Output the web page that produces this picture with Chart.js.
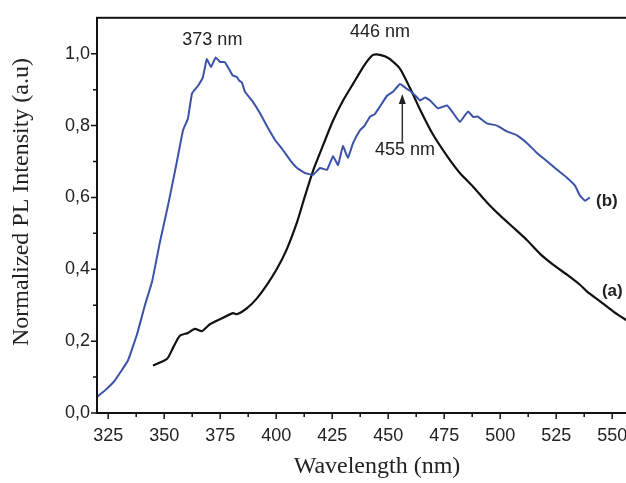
<!DOCTYPE html>
<html>
<head>
<meta charset="utf-8">
<script src="https://cdn.jsdelivr.net/npm/chart.js@4"></script>
<style>
  html, body { margin: 0; padding: 0; background: #fff; overflow: hidden; }
  #wrap { width: 662px; height: 483px; }
</style>
</head>
<body>
<div id="wrap"><canvas id="plChart" width="662" height="483"></canvas></div>
<script>
// PL spectra, normalised
const wavelengthA = [345, 351.3, 354, 357, 360.6, 363.7, 366.9, 370.4, 374.9, 380.7, 382.5, 387, 391.4, 395.9,
    400.4, 404.8, 409.3, 412.9, 416.6, 420.9, 425.4, 429.8, 434.3, 438.8, 442.8, 444.5, 446.3, 448.5, 450.8,
    455.3, 459.7, 464.2, 470, 476.3, 482, 487.9, 494.1, 499.9, 505.7, 512, 517.8, 523.6, 529.8, 535.6, 538.8,
    544.6, 550.4, 555.7, 560, 565];
const intensityA = [0.132, 0.151, 0.182, 0.215, 0.223, 0.234, 0.228, 0.247, 0.261, 0.278, 0.275, 0.292, 0.319, 0.357,
    0.402, 0.457, 0.531, 0.605, 0.677, 0.745, 0.814, 0.869, 0.916, 0.963, 0.995, 0.998, 0.997, 0.993, 0.985,
    0.958, 0.905, 0.845, 0.775, 0.715, 0.668, 0.63, 0.586, 0.55, 0.517, 0.481, 0.443, 0.413, 0.385, 0.357, 0.338,
    0.311, 0.283, 0.261, 0.245, 0.23];

const wavelengthB = [320, 323.6, 328, 333.8, 337.9, 341.4, 344.6, 348.1, 351.7, 355.3, 358.4, 360.6, 362.4, 365,
    367.3, 369, 370.9, 373, 374.9, 377, 379.4, 380.5, 382.5, 383.5, 384.7, 386, 389.6, 392.8, 395.9, 399.5, 403,
    406.2, 409.3, 412.9, 416.4, 419.6, 422.7, 425.4, 427.6, 429.8, 432, 434.3, 437.4, 439.5, 441.9, 444, 446.3,
    449.5, 452.1, 455.3, 458.4, 459.7, 462, 464.2, 466.5, 468.7, 472.2, 476.3, 479, 482, 485.6, 488, 490, 494.1,
    498.6, 503, 507.5, 512, 516.4, 520.9, 525.4, 529.8, 533.4, 535.6, 537.9, 540];
const intensityB = [0.045, 0.063, 0.091, 0.146, 0.22, 0.30, 0.366, 0.476, 0.578, 0.688, 0.787, 0.82, 0.889, 0.91,
    0.935, 0.985, 0.963, 0.99, 0.977, 0.977, 0.952, 0.94, 0.935, 0.925, 0.92, 0.895, 0.866, 0.834, 0.798, 0.76, 0.732,
    0.704, 0.682, 0.668, 0.663, 0.682, 0.677, 0.715, 0.69, 0.743, 0.71, 0.751, 0.787, 0.80, 0.825, 0.832, 0.853,
    0.883, 0.894, 0.916, 0.902, 0.897, 0.884, 0.87, 0.878, 0.87, 0.848, 0.856, 0.835, 0.81, 0.839, 0.824, 0.825,
    0.806, 0.80, 0.784, 0.773, 0.751, 0.724, 0.701, 0.677, 0.655, 0.633, 0.605, 0.591, 0.60];

const xTicks = [325, 350, 375, 400, 425, 450, 475, 500, 525, 550];
const yTicks = [0, 0.2, 0.4, 0.6, 0.8, 1.0];

const peakLabels = [
    { text: '373 nm', x: 371.5, y: 1.037 },
    { text: '446 nm', x: 446.3, y: 1.06 },
    { text: '455 nm', x: 457.5, y: 0.732 }
];
const curveTags = [
    { text: '(b)', x: 542.8, y: 0.589 },
    { text: '(a)', x: 545.4, y: 0.338 }
];
const arrow455 = { x: 456.3, from: 0.755, to: 0.888 };

const zip = (xs, ys) => xs.map((x, i) => ({ x, y: ys[i] }));

// majors plus a minor tick half way between them
function withMinor(major, min, max) {
    const step = major[1] - major[0];
    const out = [];
    for (let i = -1; i <= major.length; i++) {
        const v = major[0] + step * i;
        const m = v + step / 2;
        if (i >= 0 && i < major.length) out.push(major[i]);
        if (m >= min && m <= max) out.push(m);
    }
    return out.sort((a, b) => a - b);
}

const tickFont = { family: '"Liberation Sans", Arial, sans-serif', size: 18 };

// frame, outward tick marks, rotated y title and text labels
const decorations = {
    id: 'decorations',
    afterDraw(chart) {
        const { ctx, chartArea: a, scales: { x, y } } = chart;
        ctx.save();
        ctx.strokeStyle = '#111';
        ctx.lineWidth = 2;
        ctx.strokeRect(a.left, a.top, a.right - a.left, a.bottom - a.top);

        ctx.lineWidth = 1.5;
        ctx.beginPath();
        x.ticks.forEach(t => {
            const px = x.getPixelForValue(t.value);
            const len = xTicks.includes(t.value) ? 6 : 4;
            ctx.moveTo(px, a.bottom);
            ctx.lineTo(px, a.bottom + len);
        });
        y.ticks.forEach(t => {
            const py = y.getPixelForValue(t.value);
            if (py < a.top + 1) return;
            const len = yTicks.includes(t.value) ? 6 : 4;
            ctx.moveTo(a.left, py);
            ctx.lineTo(a.left - len, py);
        });
        ctx.stroke();

        ctx.fillStyle = '#222';
        ctx.font = '24px "Liberation Serif", "Times New Roman", serif';
        ctx.textAlign = 'center';
        ctx.textBaseline = 'middle';
        ctx.translate(22, 202);
        ctx.rotate(-Math.PI / 2);
        ctx.fillText('Normalized PL Intensity (a.u)', 0, 0);
        ctx.restore();

        ctx.save();
        ctx.fillStyle = '#222';
        ctx.font = '18px "Liberation Sans", Arial, sans-serif';
        ctx.textAlign = 'center';
        ctx.textBaseline = 'middle';
        peakLabels.forEach(l => ctx.fillText(l.text, x.getPixelForValue(l.x), y.getPixelForValue(l.y)));

        ctx.font = 'bold 17px "Liberation Sans", Arial, sans-serif';
        ctx.textAlign = 'left';
        curveTags.forEach(l => ctx.fillText(l.text, x.getPixelForValue(l.x), y.getPixelForValue(l.y)));

        const ax = x.getPixelForValue(arrow455.x);
        const y0 = y.getPixelForValue(arrow455.from);
        const y1 = y.getPixelForValue(arrow455.to);
        ctx.strokeStyle = '#333';
        ctx.lineWidth = 1.5;
        ctx.beginPath();
        ctx.moveTo(ax, y0);
        ctx.lineTo(ax, y1 + 8);
        ctx.stroke();
        ctx.fillStyle = '#222';
        ctx.beginPath();
        ctx.moveTo(ax, y1);
        ctx.lineTo(ax - 3.5, y1 + 10);
        ctx.lineTo(ax + 3.5, y1 + 10);
        ctx.closePath();
        ctx.fill();
        ctx.restore();
    }
};

new Chart(document.getElementById('plChart'), {
    type: 'line',
    data: {
        datasets: [
            {
                label: '(b)',
                data: zip(wavelengthB, intensityB),
                borderColor: '#3a52a8',
                borderWidth: 2,
                pointRadius: 0,
                tension: 0.1
            },
            {
                label: '(a)',
                data: zip(wavelengthA, intensityA),
                borderColor: '#111',
                borderWidth: 2.2,
                pointRadius: 0,
                tension: 0.2
            }
        ]
    },
    options: {
        responsive: false,
        devicePixelRatio: 1,
        animation: false,
        layout: { padding: { top: 13, right: 5, left: 0, bottom: 0 } },
        plugins: { legend: { display: false }, tooltip: { enabled: false } },
        scales: {
            x: {
                type: 'linear',
                min: 320,
                max: 570,
                afterBuildTicks: s => { s.ticks = withMinor(xTicks, 320, 570).map(v => ({ value: v })); },
                afterFit: s => { s.height = 70; },
                grid: { display: false, drawTicks: false },
                border: { display: false },
                ticks: {
                    autoSkip: false,
                    maxRotation: 0,
                    padding: 12,
                    color: '#222',
                    font: tickFont,
                    callback: v => xTicks.includes(v) ? String(v) : ''
                },
                title: {
                    display: true,
                    text: 'Wavelength (nm)',
                    color: '#222',
                    font: { family: '"Liberation Serif", "Times New Roman", serif', size: 24 },
                    padding: { top: 0, bottom: 2 }
                }
            },
            y: {
                min: 0,
                max: 1.1,
                afterBuildTicks: s => { s.ticks = withMinor(yTicks, 0, 1.1).map(v => ({ value: v })); },
                afterFit: s => { s.width = 97; },
                grid: { display: false, drawTicks: false },
                border: { display: false },
                ticks: {
                    autoSkip: false,
                    padding: 7,
                    color: '#222',
                    font: tickFont,
                    callback: v => yTicks.includes(v) ? v.toFixed(1).replace('.', ',') : ''
                }
            }
        }
    },
    plugins: [decorations]
});
</script>
</body>
</html>
